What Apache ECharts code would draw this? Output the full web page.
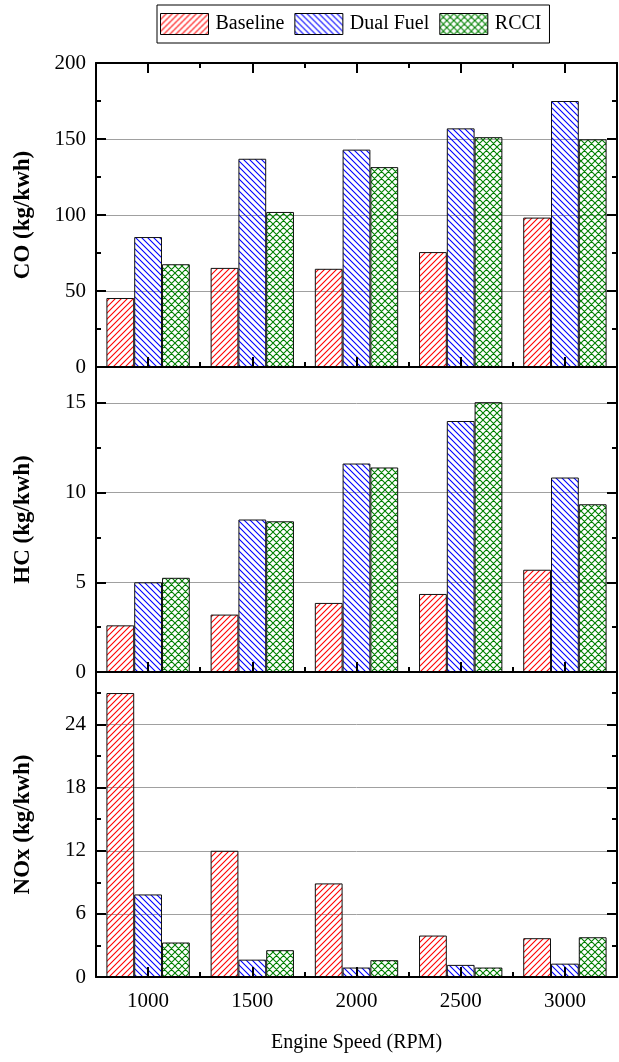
<!DOCTYPE html>
<html>
<head>
<meta charset="UTF-8">
<title>Emissions vs Engine Speed</title>
<style>
body{margin:0;background:#fff;}
#picContainer{width:619px;height:1062px;}
</style>
</head>
<body>
<div id="picContainer"></div>
<script src="https://cdn.jsdelivr.net/npm/echarts@6/dist/echarts.min.js"></script>
<script>
// data
var categories = ['1000', '1500', '2000', '2500', '3000'];
var seriesNames = ['Baseline', 'Dual Fuel', 'RCCI'];

var coBaseline = [45.4, 65.2, 64.6, 75.6, 98.3];
var coDual     = [85.5, 137, 143, 157, 175];
var coRcci     = [67.6, 102, 131.5, 151.2, 149.8];

var hcBaseline = [2.6, 3.2, 3.85, 4.35, 5.7];
var hcDual     = [5.0, 8.5, 11.62, 13.99, 10.84];
var hcRcci     = [5.25, 8.4, 11.4, 15.04, 9.35];

var noxBaseline = [27.0, 12.0, 8.9, 3.94, 3.69];
var noxDual     = [7.85, 1.65, 0.9, 1.15, 1.27];
var noxRcci     = [3.28, 2.55, 1.6, 0.9, 3.78];

// axis scales: max, major step, minor step
var yNames = ['CO (kg/kwh)', 'HC (kg/kwh)', 'NOx (kg/kwh)'];
var yMax = [200, 17, 29];
var yStep = [50, 5, 6];
var yMinorStep = [25, 2.5, 3];

var FONT = '"Liberation Serif", "Times New Roman", serif';

function hatch(color, kind, s){
    var c = document.createElement('canvas');
    c.width = s; c.height = s;
    var ctx = c.getContext('2d');
    ctx.strokeStyle = color;
    ctx.lineWidth = 1.1;
    ctx.beginPath();
    if (kind != 'back') {   // "/"
        ctx.moveTo(-1, s + 1); ctx.lineTo(s + 1, -1);
        ctx.moveTo(-1, 1); ctx.lineTo(1, -1);
        ctx.moveTo(s - 1, s + 1); ctx.lineTo(s + 1, s - 1);
    }
    if (kind != 'fwd') {    // "\"
        ctx.moveTo(-1, -1); ctx.lineTo(s + 1, s + 1);
        ctx.moveTo(s - 1, -1); ctx.lineTo(s + 1, 1);
        ctx.moveTo(-1, s - 1); ctx.lineTo(1, s + 1);
    }
    ctx.stroke();
    return {image: c, repeat: 'repeat'};
}

var fills = [hatch('#ff0000', 'fwd', 6), hatch('#0000ff', 'back', 6), hatch('#008000', 'cross', 7)];

var panelData = [
    [coBaseline, coDual, coRcci],
    [hcBaseline, hcDual, hcRcci],
    [noxBaseline, noxDual, noxRcci]
];
var panelTop = [63, 367, 672];
var panelHeight = [304, 305, 305];

var blackLine = {color: '#000', width: 2};
var grids = [], xAxes = [], yAxes = [], series = [];

function xAxis(i, pos, major, labels){
    return {
        type: 'category', gridIndex: i, position: pos, data: categories, z: 5,
        axisLine: {show: major, onZero: false, lineStyle: blackLine},
        axisTick: {show: true, inside: true, interval: 0, alignWithLabel: major,
                   length: major ? 10 : 5, lineStyle: blackLine},
        axisLabel: {show: labels, margin: 14, color: '#000', fontFamily: FONT, fontSize: 21},
        splitLine: {show: false}
    };
}
function yAxis(i, pos, major, labels){
    return {
        type: 'value', gridIndex: i, position: pos, min: 0, max: yMax[i],
        interval: major ? yStep[i] : yMinorStep[i],
        axisLine: {show: major, lineStyle: blackLine},
        axisTick: {show: true, inside: true, length: major ? 10 : 5, lineStyle: blackLine},
        axisLabel: {show: labels, margin: 10, color: '#000', fontFamily: FONT, fontSize: 21,
                    showMaxLabel: i == 0},
        splitLine: {show: labels, lineStyle: {color: '#a0a0a0', width: 1}}
    };
}

for (var i = 0; i < 3; i++) {
    grids.push({left: 96, right: 2, top: panelTop[i], height: panelHeight[i]});

    var xMain = xAxes.length;
    var xb = xAxis(i, 'bottom', true, i == 2);
    if (i == 2) {
        xb.name = 'Engine Speed (RPM)';
        xb.nameLocation = 'middle';
        xb.nameGap = 56;
        xb.nameTextStyle = {color: '#000', fontFamily: FONT, fontSize: 20};
    }
    xAxes.push(xb);
    xAxes.push(xAxis(i, 'bottom', false, false));
    if (i == 0) {
        xAxes.push(xAxis(i, 'top', true, false));
        xAxes.push(xAxis(i, 'top', false, false));
    }

    var yMain = yAxes.length;
    var yl = yAxis(i, 'left', true, true);
    yl.name = yNames[i];
    yl.nameLocation = 'middle';
    yl.nameGap = 61;
    yl.nameTextStyle = {color: '#000', fontFamily: FONT, fontSize: 23, fontWeight: 'bold'};
    yAxes.push(yl);
    yAxes.push(yAxis(i, 'left', false, false));
    yAxes.push(yAxis(i, 'right', true, false));
    yAxes.push(yAxis(i, 'right', false, false));

    for (var k = 0; k < 3; k++) {
        series.push({
            name: seriesNames[k],
            type: 'bar',
            xAxisIndex: xMain,
            yAxisIndex: yMain,
            barGap: '0%',
            barCategoryGap: '20%',
            itemStyle: {color: fills[k], borderColor: '#111', borderWidth: 1},
            data: panelData[i][k]
        });
    }
}

var myChart = echarts.init(document.getElementById('picContainer'));
var option = {
    animation: false,
    backgroundColor: '#fff',
    legend: {
        data: seriesNames,
        icon: 'rect',
        left: 157, top: 5,
        itemWidth: 48, itemHeight: 21, itemGap: 10,
        padding: [8, 8, 8, 3],
        borderColor: '#000', borderWidth: 1,
        itemStyle: {borderColor: '#000', borderWidth: 1},
        textStyle: {color: '#000', fontFamily: FONT, fontSize: 20, padding: [0, 0, 0, 2]}
    },
    grid: grids,
    xAxis: xAxes,
    yAxis: yAxes,
    series: series
};
myChart.setOption(option);
</script>
</body>
</html>
